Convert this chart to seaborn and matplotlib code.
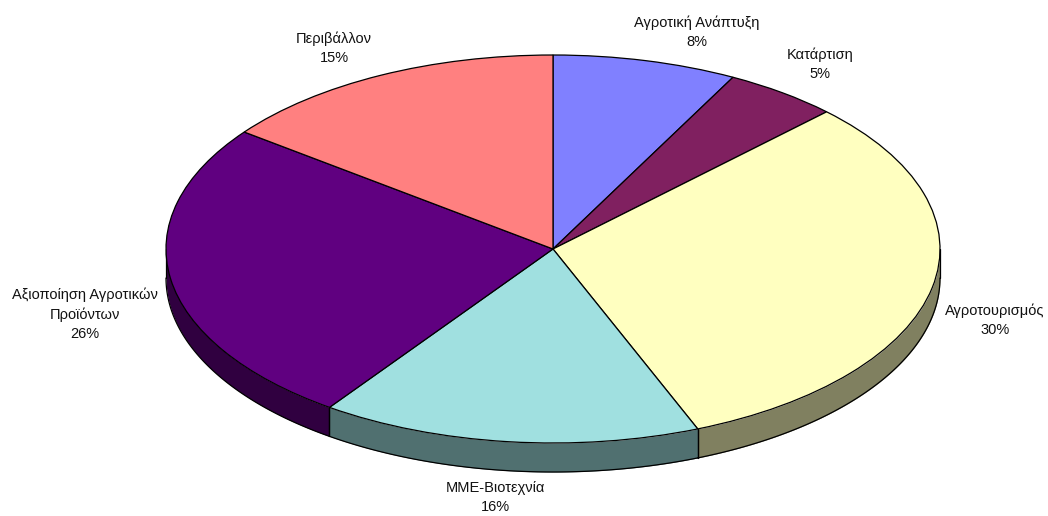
import numpy as np
import matplotlib.pyplot as plt
import seaborn as sns

# values
categories = ['Αγροτική Ανάπτυξη', 'Κατάρτιση', 'Αγροτουρισμός', 'ΜΜΕ-Βιοτεχνία',
              'Αξιοποίηση Αγροτικών\nΠροϊόντων', 'Περιβάλλον']
percent_labels = [8, 5, 30, 16, 26, 15]
# slice sizes as they appear in the tilted pie
shares = [7.7, 4.8, 31.4, 15.9, 25.5, 14.7]
colors = ['#8080FF', '#802060', '#FFFFC0', '#A0E0E0', '#600080', '#FF8080']

# label centres in pixels of the 1048x516 image
label_px = [(697, 32), (820, 64), (995, 320.5), (495, 497.5), (85, 314), (334, 48.5)]

W, H = 1048, 516
cx, cy = 553, 249
rx, ry = 387, 194
depth = 29 / ry

sns.set_theme(style='white')
plt.rcParams['font.family'] = ['Liberation Sans', 'DejaVu Sans']

fig, ax = plt.subplots(figsize=(W / 100, H / 100), dpi=100)
fig.subplots_adjust(0, 0, 1, 1)

# side wall, only the front half of each slice shows
edges = np.cumsum([0] + shares) * 3.6
for start, end, col in zip(edges[:-1], edges[1:], colors):
    a0, a1 = max(start, 90), min(end, 270)
    if a0 >= a1:
        continue
    a = np.radians(np.linspace(a0, a1, 100))
    x, y = np.sin(a), np.cos(a)
    dark = tuple(c * 0.5 for c in plt.matplotlib.colors.to_rgb(col))
    ax.fill_between(x, y, y - depth, color=dark, lw=0, zorder=1)
    ax.plot(x, y - depth, color='black', lw=0.9, zorder=2)
    ax.plot([x[0], x[0]], [y[0], y[0] - depth], color='black', lw=0.9, zorder=2)
    ax.plot([x[-1], x[-1]], [y[-1], y[-1] - depth], color='black', lw=0.9, zorder=2)

wedges, _ = ax.pie(shares, colors=colors, startangle=90, counterclock=False, radius=1,
                   wedgeprops={'edgecolor': 'black', 'linewidth': 0.9})
for w in wedges:
    w.set_zorder(3)

ax.set_aspect('auto')
ax.set_xlim(-cx / rx, (W - cx) / rx)
ax.set_ylim(-(H - cy) / ry, cy / ry)

for name, pct, (px, py) in zip(categories, percent_labels, label_px):
    fig.text(px / W, 1 - py / H, f'{name}\n{pct}%', ha='center', va='center',
             fontsize=10.5, color='#111111', linespacing=1.45)

fig.savefig('out.png', dpi=100, facecolor='white')
